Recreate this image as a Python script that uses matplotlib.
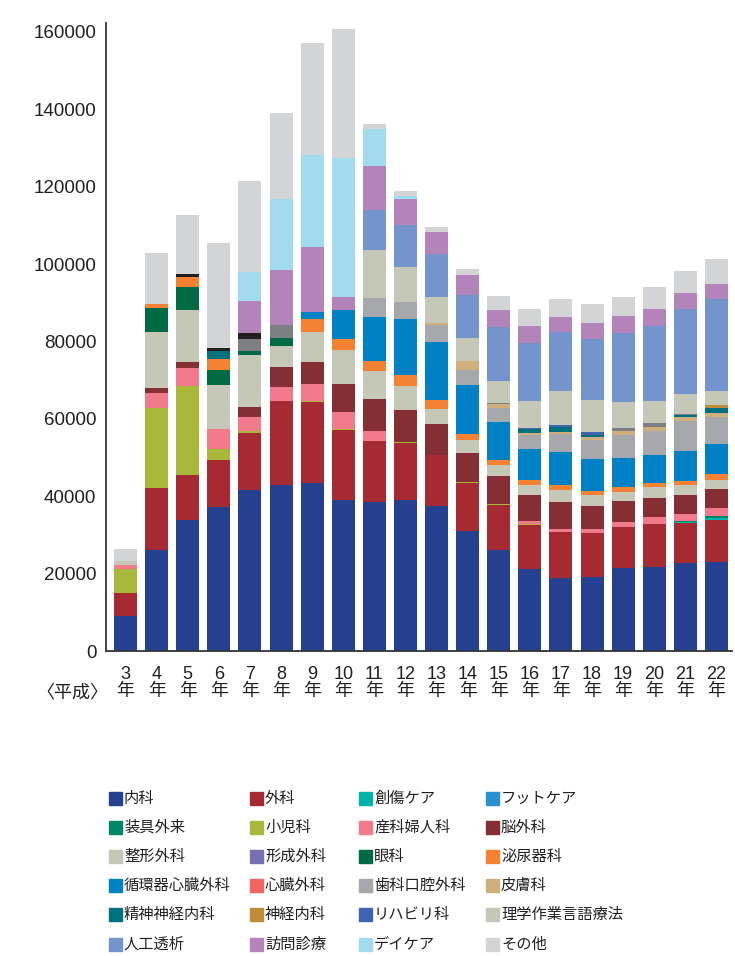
import numpy as np
import matplotlib
matplotlib.use('Agg')
import matplotlib.pyplot as plt
from matplotlib.patches import Rectangle

plt.rcParams['font.family'] = ['Noto Sans CJK JP', 'DejaVu Sans']

# 年度（平成）
years = [3, 4, 5, 6, 7, 8, 9, 10, 11, 12, 13, 14, 15, 16, 17, 18, 19, 20, 21, 22]

# 診療科ごとの件数
naika = [9050, 26190, 33940, 37220, 41620, 42910, 43430, 39110, 38590, 39110,
         37480, 31020, 26110, 21200, 18870, 19130, 21460, 21710, 22750, 23010]
geka = [5950, 15950, 11560, 12150, 14730, 21710, 20940, 18020, 15690, 14660,
        13180, 12410, 11630, 11370, 11890, 11370, 10600, 11120, 10340, 10860]
soushou = [0] * 18 + [260, 520]
foot = [0] * 20
sougu = [0] * 18 + [260, 520]
shounika = [6200, 20760, 23080, 2840, 520, 0, 150, 150, 0, 260,
            0, 260, 260, 260, 0, 0, 0, 0, 0, 0]
sanfujin = [1030, 3800, 4580, 5170, 3620, 3620, 4390, 4390, 2590, 0,
            0, 0, 0, 780, 780, 1030, 1290, 1810, 1810, 2070]
nougeka = [0, 1290, 1550, 0, 2590, 5170, 5690, 7240, 8270, 8270,
           8010, 7500, 7240, 6720, 6980, 5950, 5430, 4910, 4910, 4910]
seikei = [1030, 14480, 13440, 11370, 13440, 5430, 7760, 8790, 7240, 6200,
          3880, 3360, 2840, 2590, 3100, 2840, 2330, 2840, 2590, 2330]
keisei = [0] * 20
ganka = [0, 6200, 5950, 3880, 1030, 2070] + [0] * 14
hinyouki = [0, 1030, 2590, 2840, 0, 0, 3360, 2840, 2590, 2840,
            2330, 1550, 1290, 1290, 1290, 1030, 1290, 1030, 1030, 1550]
junkanki = [0, 0, 0, 0, 0, 0, 1810, 7500, 11370, 14480,
            14990, 12670, 9820, 8010, 8530, 8270, 7500, 7240, 7760, 7760]
shinzou = [0] * 20
shika = [0, 0, 0, 0, 0, 0, 0, 0, 4910, 4390,
         4390, 3880, 3620, 3620, 4650, 4910, 5950, 6200, 7760, 6980]
hifu = [0] * 10 + [520, 2330, 1030, 520, 520, 780, 1030, 1030, 1030, 1030]
seishin = [0, 0, 0, 2070] + [0] * 9 + [1030, 1290, 520, 0, 0, 520, 1290]
shinkei = [0] * 19 + [780]
riha = [0] * 13 + [260, 520, 780, 0, 0, 0, 0]
# 凡例にない色の区分（濃い灰色・黒）
other_dark = [0, 0, 0, 0, 3100, 3360, 0, 0, 0, 0,
              0, 0, 260, 0, 0, 0, 780, 1030, 260, 0]
other_black = [0, 0, 780, 780, 1550] + [0] * 15
rigaku = [0] * 8 + [12410, 9050, 6720, 5950, 5690, 6980, 8790, 8270, 6720, 5690, 5170, 3620]
touseki = [0] * 8 + [10420, 10860, 11120, 11120, 13960, 14990, 15250, 15770,
                     17840, 19390, 21970, 23780]
houmon = [0, 0, 0, 0, 8270, 14220, 16800, 3360, 11300, 6720,
          5690, 5170, 4390, 4390, 3880, 4140, 4390, 4390, 4140, 3880]
daycare = [0, 0, 0, 0, 7570, 18350, 23860, 35930, 9560, 780] + [0] * 10
sonota = [3100, 13180, 15250, 27140, 23450, 22230, 28870, 33350, 1290, 1290,
          1290, 1550, 3620, 4390, 4650, 4910, 4910, 5690, 5690, 6460]

# (ラベル, データ, 色, 凡例に出すか) 積み上げ順
series = [
    ('内科', naika, '#25408f', True),
    ('外科', geka, '#a62a31', True),
    ('創傷ケア', soushou, '#00b2a9', True),
    ('フットケア', foot, '#2b8fd0', True),
    ('装具外来', sougu, '#00876a', True),
    ('小児科', shounika, '#a9b73b', True),
    ('産科婦人科', sanfujin, '#f27b8b', True),
    ('脳外科', nougeka, '#852e34', True),
    ('整形外科', seikei, '#c5c8b7', True),
    ('形成外科', keisei, '#7670b0', True),
    ('眼科', ganka, '#006a45', True),
    ('泌尿器科', hinyouki, '#f58232', True),
    ('循環器心臓外科', junkanki, '#0081c6', True),
    ('心臓外科', shinzou, '#f2665f', True),
    ('歯科口腔外科', shika, '#a7a8ac', True),
    ('皮膚科', hifu, '#cfb07d', True),
    ('精神神経内科', seishin, '#00727f', True),
    ('神経内科', shinkei, '#c18b3a', True),
    ('リハビリ科', riha, '#4264b0', True),
    ('', other_dark, '#7e7f83', False),
    ('', other_black, '#231f20', False),
    ('理学作業言語療法', rigaku, '#c5c8b7', True),
    ('人工透析', touseki, '#7394cd', True),
    ('訪問診療', houmon, '#b384b9', True),
    ('デイケア', daycare, '#a1dbed', True),
    ('その他', sonota, '#d3d4d6', True),
]

W, H = 735, 956
fig = plt.figure(figsize=(W / 100, H / 100), dpi=100)
ax = fig.add_axes([106 / W, 305 / H, (732 - 106) / W, (651 - 23) / H])

x = np.arange(len(years))
bottom = np.zeros(len(years))
for label, vals, color, _ in series:
    vals = np.array(vals, dtype=float)
    ax.bar(x, vals, width=0.74, bottom=bottom, color=color, linewidth=0)
    bottom += vals

ax.set_xlim(-0.63, 19.5)
ax.set_ylim(0, 162300)
ax.set_yticks(np.arange(0, 160001, 20000))
ax.set_yticklabels([str(v) for v in range(0, 160001, 20000)],
                   family=['Liberation Sans', 'DejaVu Sans'], fontsize=13.5, color='#231f20')
ax.set_xticks(x)
ax.set_xticklabels([f'{y}\n年' for y in years], fontsize=13, color='#231f20', linespacing=1.0,
                   family=['Liberation Sans', 'Noto Sans CJK JP'])
ax.tick_params(axis='y', length=0, pad=7)
ax.tick_params(axis='x', length=0, pad=11)
for s in ['top', 'right']:
    ax.spines[s].set_visible(False)
for s in ['left', 'bottom']:
    ax.spines[s].set_linewidth(1.3)
    ax.spines[s].set_color('#333333')

fig.text(72 / W, 1 - 692 / H, '〈平成〉', ha='center', va='center', fontsize=13, color='#231f20')

# 凡例（4列×6行、行方向に並べる）
legend_items = [(lab, col) for lab, _, col, show in series if show]
col_x = [109, 250, 359, 486]
for i, (lab, col) in enumerate(legend_items):
    r, c = divmod(i, 4)
    cy = 798 + 29.2 * r
    fig.patches.append(Rectangle((col_x[c] / W, 1 - (cy + 6.5) / H), 13 / W, 13 / H,
                                 transform=fig.transFigure, color=col, figure=fig))
    fig.text((col_x[c] + 15) / W, 1 - cy / H, lab, ha='left', va='center',
             fontsize=11, color='#231f20')

fig.savefig('out.png', dpi=100)
